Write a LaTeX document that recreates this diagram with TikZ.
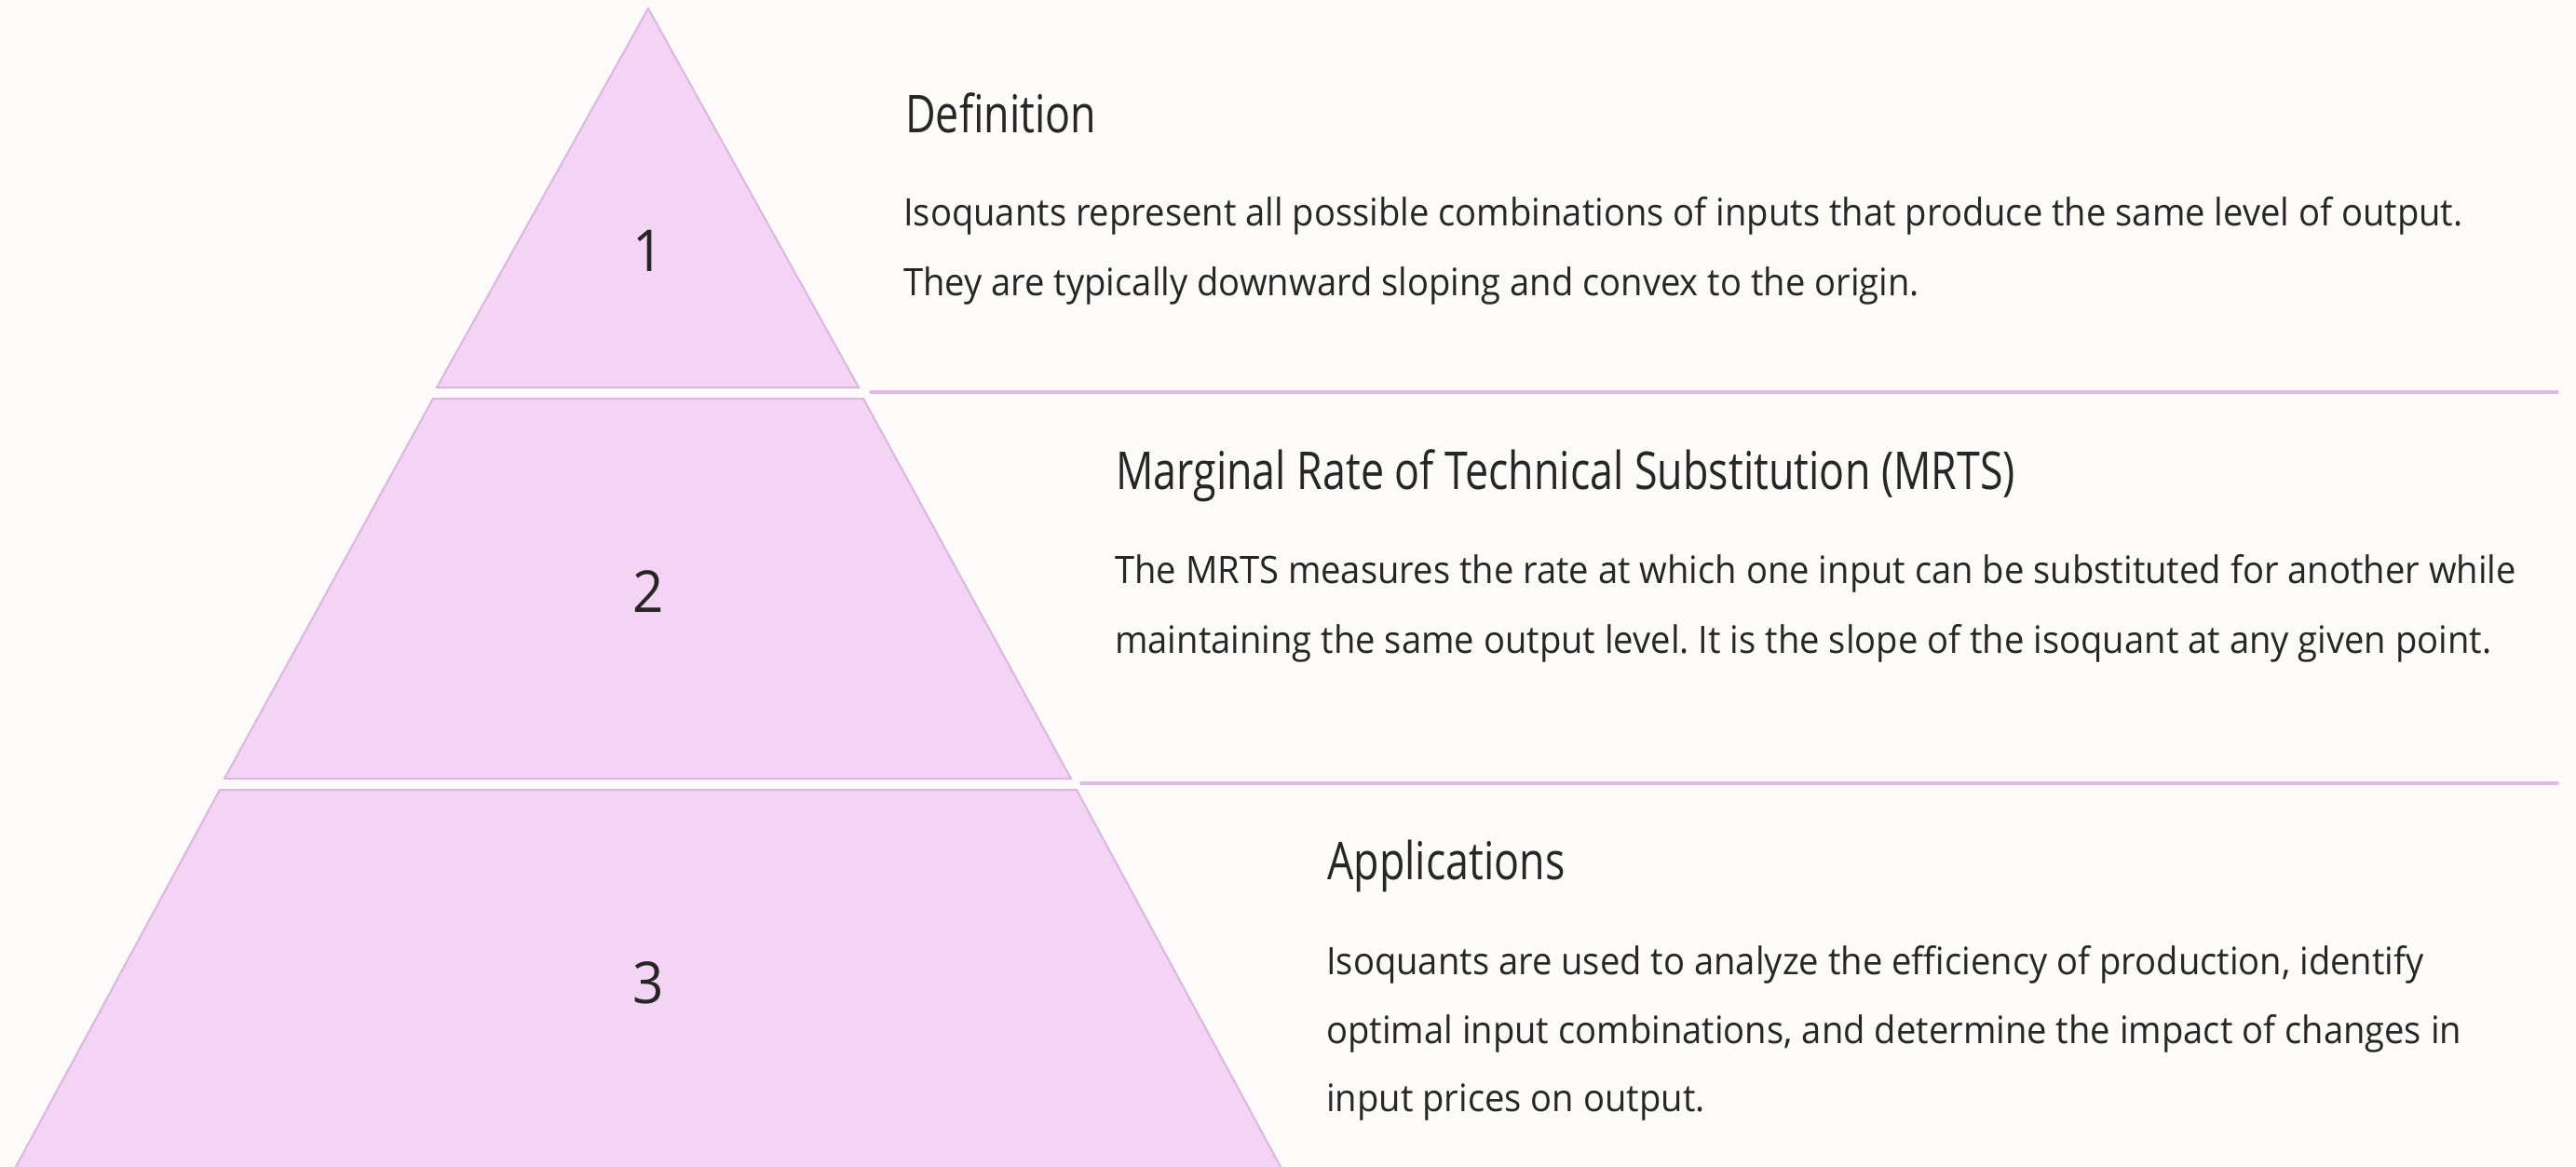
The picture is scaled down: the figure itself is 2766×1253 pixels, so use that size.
\documentclass[tikz,border=0pt]{standalone}
\usepackage{fontspec}
\setmainfont{Open Sans}
\newfontfamily\headfont{Open Sans}[FakeStretch=0.80]
\newfontfamily\bodyfont{Open Sans}[FakeStretch=0.94]
\definecolor{bg}{HTML}{FDFBFA}
\definecolor{tierfill}{HTML}{F3D4F5}
\definecolor{tierline}{HTML}{DDB6E0}
\definecolor{rulecol}{HTML}{DDB9E3}
\definecolor{ink}{HTML}{262626}
\tikzset{
  tier/.style={fill=tierfill, draw=tierline, line width=2pt, line join=miter},
  num/.style={inner sep=0pt, text=ink, font=\bodyfont\fontsize{62}{62}\selectfont},
  head/.style={inner sep=0pt, anchor=base west, text=ink, font=\headfont\fontsize{56}{60}\selectfont},
  body/.style={inner sep=0pt, anchor=base west, text=ink, font=\bodyfont\frenchspacing\fontsize{40.6}{75}\selectfont},
  sep/.style={draw=rulecol, line width=3.5pt, line cap=round},
}
\begin{document}
\begin{tikzpicture}[x=1pt,y=-1pt]
  % canvas
  \fill[bg] (0,0) rectangle (2766,1253);
  \useasboundingbox (0,0) rectangle (2766,1253);

  % pyramid tiers
  \begin{scope}
    \clip (0,0) rectangle (2766,1253);
    \path[tier] (696,9) -- (922,416) -- (469,416) -- cycle;
    \path[tier] (465,428) -- (927,428) -- (1150,836) -- (241,836) -- cycle;
    \path[tier] (236,848) -- (1156,848) -- (1380,1262) -- (12,1262) -- cycle;
  \end{scope}

  % tier numbers
  \node[num] (n1) at (696,269) {1};
  \node[num] (n2) at (696,635) {2};
  \node[num] (n3) at (696,1055) {3};

  % separators between the sections
  \coordinate (s1a) at (935,421);  \coordinate (s1b) at (2746,421);
  \coordinate (s2a) at (1161,841); \coordinate (s2b) at (2746,841);
  \draw[sep] (s1a) -- (s1b);
  \draw[sep] (s2a) -- (s2b);

  % section 1
  \node[head] (h1) at (972,142) {Definition};
  \node[body] (b1a) at (970,242) {Isoquants represent all possible combinations of inputs that produce the same level of output.};
  \node[body] (b1b) at (970,317) {They are typically downward sloping and convex to the origin.};

  % section 2
  \node[head] (h2) at (1198,525) {Marginal Rate of Technical Substitution (MRTS)};
  \node[body] (b2a) at (1197,626) {The MRTS measures the rate at which one input can be substituted for another while};
  \node[body] (b2b) at (1197,701) {maintaining the same output level. It is the slope of the isoquant at any given point.};

  % section 3
  \node[head] (h3) at (1425,944) {Applications};
  \node[body] (b3a) at (1424,1046) {Isoquants are used to analyze the efficiency of production, identify};
  \node[body] (b3b) at (1424,1120) {optimal input combinations, and determine the impact of changes in};
  \node[body] (b3c) at (1424,1193) {input prices on output.};
\end{tikzpicture}
\end{document}
